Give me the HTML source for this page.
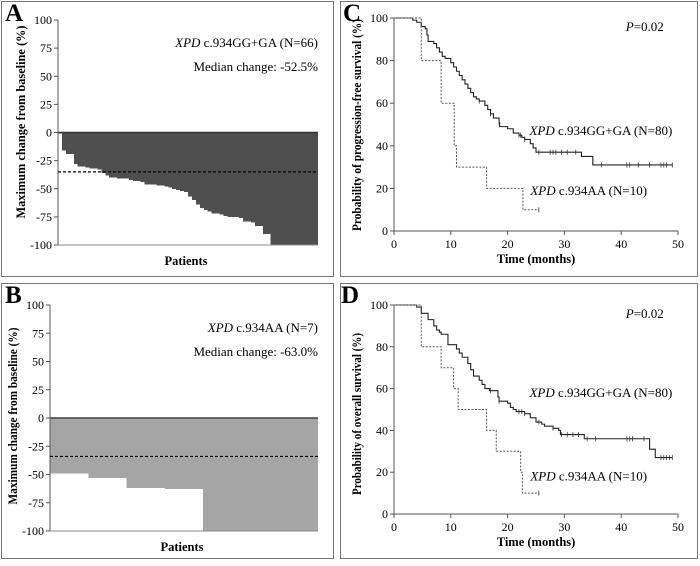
<!DOCTYPE html>
<html><head><meta charset="utf-8"><style>
body{margin:0;background:#fff}
svg{display:block}
svg text{font-family:"Liberation Serif","Times New Roman",Times,serif}
</style></head><body>
<svg id="s" width="700" height="566" font-family="Liberation Serif, serif"></svg>
<script>
// Panel A waterfall values
const aValues=[-1,-16,-19,-19,-28,-30,-30,-31,-32,-32,-33,-36,-38,-40,-40,-41,-41,-41,-42,-43,-43,-44,-46,-46,-46,-47,-47,-48,-49,-50,-51,-52,-53,-57,-60,-64,-67,-69,-70,-72,-72,-73,-74,-75,-75,-75,-76,-79,-79,-80,-83,-83,-90,-90,-100,-100,-100,-100,-100,-100,-100,-100,-100,-100,-100,-100];
const aThreshold=-35;
// Panel B waterfall values
const bValues=[-49,-53,-62,-63,-100,-100,-100];
const bThreshold=-34;
const waterTicks=[100,75,50,25,0,-25,-50,-75,-100];
const survTicksY=[0,20,40,60,80,100];
const survTicksX=[0,10,20,30,40,50];
// Panel C (PFS)
const cSolidT=[0,3.3,4,4.8,5.5,5.8,6,7,7.5,8,8.5,9,10,10.5,11,11.5,12,12.5,13,13.5,14,14.5,15,16,16.5,17,17.5,18.5,18.6,20,21,22,22.5,23,24,24.5,25,33,35];
const cSolidS=[100,99,98,96,95,92,89,88,86,84,82,81,79,77,75,73,71,69,67,65,63,62,61,59,57,55,53,51,49,48,46,45,44,43,41,39,37,35,31];
const cSolidEnd=49;
const cSolidCens=[15,17,18.5,22,22.3,23,25.5,27.5,28,28.5,29.5,30.5,32,36.5,41,41.5,43,45,47,47.5,48,49];
const cDashT=[0,4.8,8.3,10.6,11,16.3,22.7];
const cDashS=[100,80,60,40,30,20,10];
const cDashEnd=25.5;
const cDashCens=[25.5];
// Panel D (OS)
const dSolidT=[0,3.5,4,4.8,6,7,7.5,8,8.3,9.5,11,11.5,12,13,13.5,14,15,15.5,16,16.8,18.3,18.5,20,20.5,21,21.5,23,24,25,26,26.5,28,29,29.3,33.5,45,46];
const dSolidS=[100,100,99,96,93,90,88,87,86,81,79,77,75,72,69,66,64,62,60,59,56,54,53,51,50,49,48,46,44,43,42,41,40,38,36,31,27];
const dSolidEnd=49;
const dSolidCens=[17,18.5,22,22.5,23,25.5,28,29.5,30.5,31.5,32.5,34,35.5,41,41.5,42,44,47,47.5,48,48.5,49];
const dDashT=[0,4.8,8.3,10.5,11.3,16.3,18,22.3,22.6];
const dDashS=[100,80,70,60,50,40,30,20,10];
const dDashEnd=25.5;
const dDashCens=[25.5];

const NS="http://www.w3.org/2000/svg";
const svg=document.getElementById('s');
function mk(tag,at,parent,txt){const e=document.createElementNS(NS,tag);for(const k in at)e.setAttribute(k,at[k]);if(txt!==undefined)e.textContent=txt;(parent||svg).appendChild(e);return e;}

function box(x,y,w,h,name){
  const r=mk('rect',{x:x+.5,y:y+.5,width:w,height:h,fill:'none',stroke:'#777','stroke-width':1});
  
  
}
function label(x,y,t,name){
  const e=mk('text',{x:x,y:y,'font-size':25,'font-weight':'bold'},svg,t);
  
  
}

function waterfall(o){
  const g=mk('g',{});
  
  
  const ys=v=>o.y0+(100-v)/200*(o.y1-o.y0);
  const bw=(o.xr-o.xl)/o.vals.length;
  o.vals.forEach((v,i)=>{
    const w=(i===o.vals.length-1)?bw:bw+1;
    const b=mk('rect',{x:o.xl+i*bw,y:ys(0),width:w,height:ys(v)-ys(0),fill:o.fill,'shape-rendering':'crispEdges'},g);
    
    
  });
  mk('line',{x1:o.xl,x2:o.xr,y1:ys(0),y2:ys(0),stroke:o.zero,'stroke-width':1.5},g);
  mk('line',{x1:o.xl,x2:o.xl,y1:o.y0,y2:o.y1,stroke:'#555'},g);
  mk('line',{x1:o.xl,x2:o.xr,y1:o.y1,y2:o.y1,stroke:'#888'},g);
  const th=mk('line',{x1:o.xl,x2:o.xr,y1:ys(o.th),y2:ys(o.th),stroke:'#000','stroke-dasharray':'3,2','stroke-width':1.2},g);
  
  
  waterTicks.forEach(t=>{
    mk('line',{x1:o.xl-4,x2:o.xl,y1:ys(t),y2:ys(t),stroke:'#555'},g);
    const tl=mk('text',{x:o.xl-6,y:ys(t)+4,'font-size':12,'text-anchor':'end'},g,t);
    
    
  });
  const yt=mk('text',{transform:`translate(${o.xl-33},${o.tc}) rotate(-90)`,'font-size':12.5,'font-weight':'bold','text-anchor':'middle',textLength:o.tl,lengthAdjust:'spacingAndGlyphs'},g,'Maximum change from baseline (%)');
  
  
  const xt=mk('text',{x:(o.xl+o.xr)/2-2,y:o.y1+20,'font-size':12.5,'font-weight':'bold','text-anchor':'middle'},g,'Patients');
  
  
  const t1=mk('text',{x:o.xr,y:o.y0+27,'font-size':13,'text-anchor':'end'},g);
  
  
  mk('tspan',{'font-style':'italic'},t1,'XPD');
  mk('tspan',{},t1,o.grp);
  const t2=mk('text',{x:o.xr,y:o.y0+51,'font-size':13,'text-anchor':'end'},g,o.med);
  
  
}

function survival(o){
  const g=mk('g',{});
  
  
  const xs=t=>o.xl+t/50*(o.xr-o.xl);
  const ys=v=>o.y1-v/100*(o.y1-o.y0);
  mk('line',{x1:o.xl,x2:o.xl,y1:o.y0,y2:o.y1,stroke:'#555'},g);
  mk('line',{x1:o.xl,x2:o.xr,y1:o.y1,y2:o.y1,stroke:'#555'},g);
  survTicksY.forEach(t=>{
    mk('line',{x1:o.xl-4,x2:o.xl,y1:ys(t),y2:ys(t),stroke:'#555'},g);
    const tl=mk('text',{x:o.xl-6,y:ys(t)+4,'font-size':12,'text-anchor':'end'},g,t);
    
    
  });
  survTicksX.forEach(t=>{
    mk('line',{x1:xs(t),x2:xs(t),y1:o.y1,y2:o.y1+4,stroke:'#555'},g);
    const tl=mk('text',{x:xs(t),y:o.y1+17,'font-size':12,'text-anchor':'middle'},g,t);
    
    
  });
  function curve(T,S,end,cens,dash,nm){
    let d=`M${xs(T[0])},${ys(S[0])}`;
    for(let i=1;i<T.length;i++){d+=`H${xs(T[i])}V${ys(S[i])}`;}
    d+=`H${xs(end)}`;
    const p=mk('path',{d:d,fill:'none',stroke:dash?'#555':'#222','stroke-width':dash?1:1.1,'stroke-dasharray':dash?'2,1.5':'none'},g);
    
    
    cens.forEach(c=>{
      let s=S[0];for(let i=0;i<T.length;i++)if(T[i]<=c)s=S[i];
      const m=mk('line',{x1:xs(c),x2:xs(c),y1:ys(s)-2.5,y2:ys(s)+2.5,stroke:'#333','stroke-width':0.8},g);
      
      
    });
  }
  curve(o.sT,o.sS,o.sEnd,o.sC,false,'curve-gg-ga');
  curve(o.dT,o.dS,o.dEnd,o.dC,true,'curve-aa');
  const yt=mk('text',{transform:`translate(${o.xl-33},${o.tc}) rotate(-90)`,'font-size':12.5,'font-weight':'bold','text-anchor':'middle',textLength:o.tl,lengthAdjust:'spacingAndGlyphs'},g,o.ytitle);
  
  
  const xt=mk('text',{x:(o.xl+o.xr)/2,y:o.y1+32,'font-size':12.5,'font-weight':'bold','text-anchor':'middle'},g,'Time (months)');
  
  
  const p=mk('text',{x:xs(47.5),y:o.y0+13,'font-size':13,'text-anchor':'end'},g);
  
  
  mk('tspan',{'font-style':'italic'},p,'P');
  mk('tspan',{},p,'=0.02');
  const l1=mk('text',{x:xs(49),y:ys(o.l1y),'font-size':13,'text-anchor':'end'},g);
  
  
  mk('tspan',{'font-style':'italic'},l1,'XPD');
  mk('tspan',{},l1,' c.934GG+GA (N=80)');
  const l2=mk('text',{x:xs(24),y:ys(o.l2y),'font-size':13},g);
  
  
  mk('tspan',{'font-style':'italic'},l2,'XPD');
  mk('tspan',{},l2,' c.934AA (N=10)');
}

box(1,1,332,275,'panel-a-frame');
box(340,1,357,275,'panel-c-frame');
box(1,283,332,275,'panel-b-frame');
box(340,283,357,275,'panel-d-frame');
label(5,21,'A','panel-a-label');
label(5,303,'B','panel-b-label');
label(343,21,'C','panel-c-label');
label(341,303,'D','panel-d-label');

waterfall({name:'panel-a-waterfall',vals:aValues,th:aThreshold,xl:58,xr:318,y0:20,y1:245,fill:'#4f4f4f',zero:'#333',tc:122,tl:193,grp:' c.934GG+GA (N=66)',med:'Median change: -52.5%'});
waterfall({name:'panel-b-waterfall',vals:bValues,th:bThreshold,xl:50,xr:318,y0:305,y1:531,fill:'#a5a5a5',zero:'#444',tc:416,tl:177,grp:' c.934AA (N=7)',med:'Median change: -63.0%'});
survival({name:'panel-c-pfs',xl:394,xr:678,y0:18,y1:231,tc:125,tl:212,sT:cSolidT,sS:cSolidS,sEnd:cSolidEnd,sC:cSolidCens,dT:cDashT,dS:cDashS,dEnd:cDashEnd,dC:cDashCens,ytitle:'Probability of progression-free survival (%)',l1y:45,l2y:17});
survival({name:'panel-d-os',xl:394,xr:678,y0:305,y1:514,tc:414,tl:162,sT:dSolidT,sS:dSolidS,sEnd:dSolidEnd,sC:dSolidCens,dT:dDashT,dS:dDashS,dEnd:dDashEnd,dC:dDashCens,ytitle:'Probability of overall survival (%)',l1y:56,l2y:16});
</script>
</body></html>
